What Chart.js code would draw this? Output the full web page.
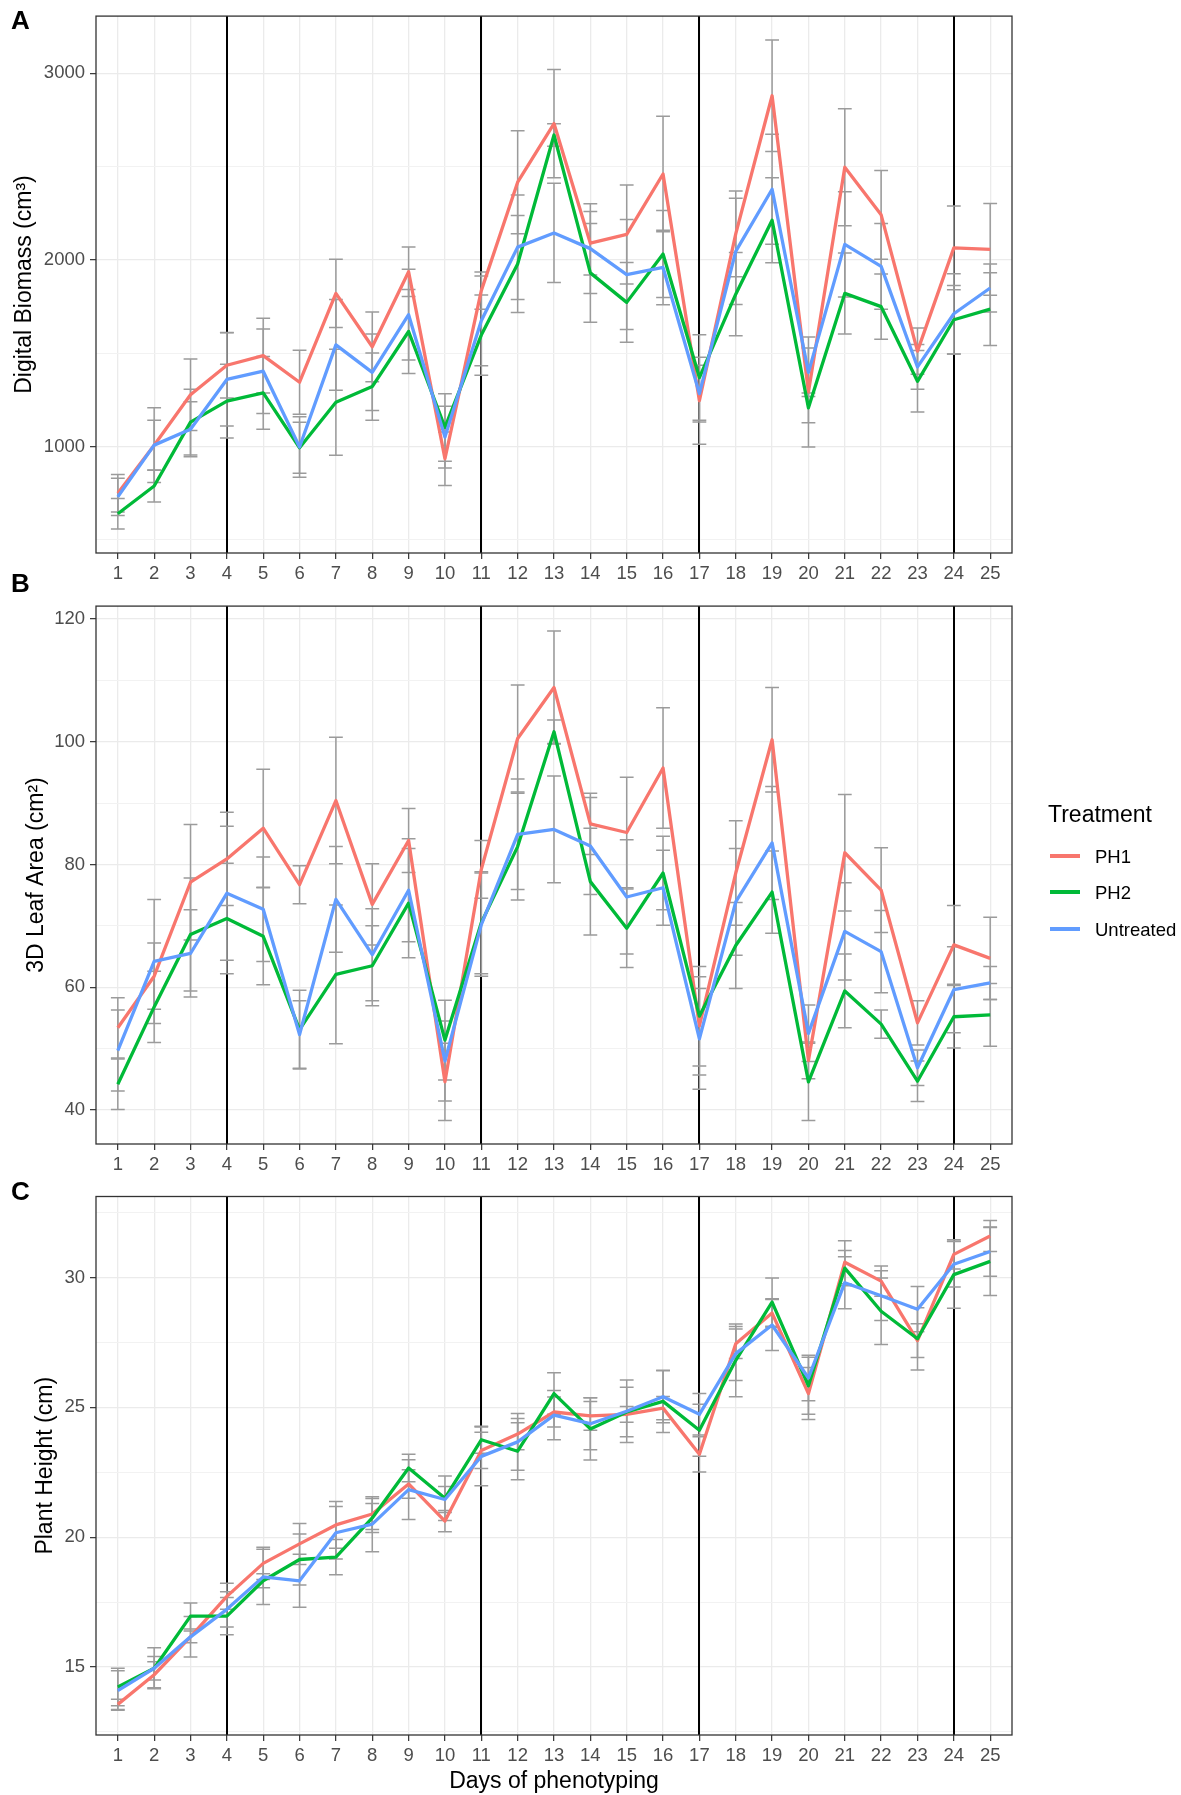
<!DOCTYPE html>
<html>
<head>
<meta charset="utf-8">
<title>Phenotyping traits by treatment</title>
<script src="https://cdn.jsdelivr.net/npm/chart.js@4.4.1/dist/chart.umd.min.js"></script>
<style>
  body { margin: 0; background: #fff; }
  #page { position: relative; width: 1181px; height: 1795px; font-family: "Liberation Sans", Arial, sans-serif; }
  canvas { position: absolute; left: 0; }
  .tag { position: absolute; left: 11px; font-weight: bold; font-size: 26px; line-height: 26px; color: #000; }
  .legend-title { position: absolute; left: 1048px; top: 803px; font-size: 23px; line-height: 23px; color: #000; }
  .legend-item { position: absolute; left: 1095px; font-size: 18.5px; line-height: 18.5px; color: #000; }
  .swatch { position: absolute; left: 1050px; width: 30px; height: 4px; }
</style>
</head>
<body>
<div id="page">
  <canvas id="biomassChart" width="1181" height="600" style="top:0px"></canvas>
  <canvas id="leafChart" width="1181" height="600" style="top:590px"></canvas>
  <canvas id="heightChart" width="1181" height="615" style="top:1180px"></canvas>

  <div class="tag" style="top:7px">A</div>
  <div class="tag" style="top:570px">B</div>
  <div class="tag" style="top:1178px">C</div>

  <div class="legend-title">Treatment</div>
  <div class="swatch" style="top:854px;background:#F8766D"></div>
  <div class="legend-item" style="top:848px">PH1</div>
  <div class="swatch" style="top:890px;background:#00BA38"></div>
  <div class="legend-item" style="top:884px">PH2</div>
  <div class="swatch" style="top:927px;background:#619CFF"></div>
  <div class="legend-item" style="top:921px">Untreated</div>
</div>

<script>
// ---- data ----
const days = [1, 2, 3, 4, 5, 6, 7, 8, 9, 10, 11, 12, 13, 14, 15, 16, 17, 18, 19, 20, 21, 22, 23, 24, 25];
const phaseDays = [4, 11, 17, 24];
const treatments = ['PH1', 'PH2', 'Untreated'];

// A: digital biomass (cm3), means and error half-widths
const biomassPH1 = [750, 1008, 1278, 1436, 1488, 1345, 1821, 1535, 1937, 935, 1836, 2417, 2731, 2090, 2137, 2461, 1246, 2140, 2880, 1293, 2497, 2242, 1512, 2065, 2057];
const biomassPH2 = [640, 789, 1131, 1244, 1288, 994, 1238, 1322, 1617, 1103, 1598, 1979, 2670, 1931, 1773, 2032, 1370, 1817, 2213, 1208, 1821, 1750, 1350, 1680, 1737];
const biomassUntreated = [731, 1008, 1093, 1360, 1404, 998, 1545, 1398, 1707, 1051, 1674, 2069, 2145, 2061, 1922, 1960, 1284, 2046, 2379, 1398, 2084, 1966, 1427, 1712, 1850];
const biomassErrPH1 = [100, 200, 192, 175, 200, 171, 183, 187, 133, 143, 100, 276, 290, 170, 265, 310, 233, 230, 299, 295, 314, 238, 124, 225, 246];
const biomassErrPH2 = [82, 86, 176, 198, 195, 137, 284, 180, 225, 181, 215, 260, 60, 265, 214, 233, 229, 223, 228, 80, 217, 175, 165, 183, 195];
const biomassErrUntreated = [100, 134, 147, 250, 226, 162, 243, 205, 243, 166, 240, 280, 266, 240, 295, 200, 152, 285, 295, 130, 282, 230, 120, 215, 128];

// B: 3D leaf area (cm2)
const leafPH1 = [53.4, 61.8, 77.1, 80.9, 85.9, 76.7, 90.4, 73.5, 83.9, 44.6, 79.2, 100.5, 108.8, 86.6, 85.2, 95.7, 53.7, 78.6, 100.3, 48.1, 81.9, 75.8, 54.2, 66.9, 64.7];
const leafPH2 = [44.2, 56.8, 68.6, 71.2, 68.3, 53.1, 62.1, 63.5, 73.7, 51.4, 70.5, 82.9, 101.6, 77.2, 69.6, 78.6, 55.3, 66.8, 75.5, 44.6, 59.4, 54.0, 44.7, 55.2, 55.5];
const leafUntreated = [49.7, 64.2, 65.5, 75.3, 72.7, 52.3, 74.3, 65.3, 75.8, 48.0, 70.2, 84.9, 85.7, 83.0, 74.7, 76.2, 51.6, 73.9, 83.5, 52.5, 69.1, 65.8, 46.9, 59.6, 60.7];
const leafErrPH1 = [4.9, 5.4, 9.4, 7.6, 9.6, 3.1, 10.3, 6.6, 5.2, 6.3, 4.7, 8.7, 9.2, 5.0, 9.0, 9.8, 8.0, 8.5, 8.5, 3.0, 9.5, 6.9, 3.6, 6.4, 6.7];
const leafErrPH2 = [4.1, 5.8, 9.2, 9.0, 7.9, 6.4, 11.3, 6.5, 8.9, 6.5, 8.3, 8.7, 1.9, 8.7, 6.4, 6.0, 8.1, 7.0, 6.7, 6.3, 6.0, 2.3, 3.3, 5.1, 5.1];
const leafErrUntreated = [6.6, 10.1, 7.1, 10.9, 8.5, 5.5, 8.6, 7.5, 8.4, 6.5, 8.4, 9.0, 8.7, 7.9, 9.3, 6.1, 8.2, 8.7, 9.2, 4.6, 7.9, 6.7, 2.9, 7.0, 2.7];

// C: plant height (cm)
const heightPH1 = [13.56, 14.70, 16.16, 17.72, 18.99, 19.74, 20.47, 20.89, 22.05, 20.62, 23.34, 23.97, 24.82, 24.67, 24.73, 24.97, 23.19, 27.45, 28.63, 25.53, 30.59, 29.86, 27.57, 30.89, 31.60];
const heightPH2 = [14.23, 14.95, 16.96, 16.96, 18.32, 19.14, 19.23, 20.74, 22.66, 21.50, 23.75, 23.31, 25.53, 24.17, 24.82, 25.23, 24.12, 26.81, 29.05, 25.83, 30.36, 28.70, 27.64, 30.11, 30.62];
const heightUntreated = [14.09, 14.95, 16.16, 17.22, 18.47, 18.32, 20.17, 20.50, 21.83, 21.45, 23.11, 23.67, 24.70, 24.37, 24.85, 25.41, 24.73, 27.07, 28.17, 26.13, 29.80, 29.30, 28.78, 30.51, 31.00];
const heightErrPH1 = [0.20, 0.50, 0.23, 0.50, 0.62, 0.79, 0.90, 0.60, 0.55, 0.41, 0.70, 0.60, 0.58, 0.55, 0.30, 0.45, 0.68, 0.57, 0.55, 1.00, 0.83, 0.58, 0.65, 0.56, 0.60];
const heightErrPH2 = [0.72, 0.79, 0.50, 0.72, 0.27, 0.98, 0.68, 0.56, 0.53, 0.86, 0.52, 1.10, 0.80, 1.20, 0.95, 1.20, 1.00, 1.40, 0.93, 1.10, 0.68, 1.28, 1.20, 1.29, 1.31];
const heightErrUntreated = [0.76, 0.45, 0.78, 0.68, 1.06, 1.02, 1.01, 1.06, 1.15, 0.50, 1.13, 1.09, 0.95, 1.00, 1.20, 1.00, 0.80, 1.04, 0.98, 0.88, 1.00, 0.96, 0.87, 0.88, 0.95];

// y tick labels per panel (major) and minor grid positions
const biomassTicks = [1000, 2000, 3000];
const biomassMinor = [500, 1500, 2500];
const leafTicks = [40, 60, 80, 100, 120];
const leafMinor = [50, 70, 90, 110];
const heightTicks = [15, 20, 25, 30];
const heightMinor = [12.5, 17.5, 22.5, 27.5, 32.5];

// ---- styling ----
const lineColors = ['#F8766D', '#00BA38', '#619CFF'];
const FONT = "'Liberation Sans', Arial, sans-serif";
const PLOT_LEFT = 96;      // left edge of every panel
const PLOT_RIGHT_PAD = 169; // room for the legend
const CAP_WIDTH = 0.38;    // error bar cap width in day units

Chart.defaults.font.family = FONT;
Chart.defaults.animation = false;

// phase lines, error bars and panel border
const panelDecor = {
  id: 'panelDecor',
  beforeDatasetsDraw(chart) {
    const { ctx, chartArea, scales: { x, y } } = chart;
    ctx.save();
    ctx.beginPath();
    ctx.rect(chartArea.left, chartArea.top, chartArea.width, chartArea.height);
    ctx.clip();

    ctx.strokeStyle = '#000';
    ctx.lineWidth = 2;
    phaseDays.forEach(d => {
      const px = Math.round(x.getPixelForValue(d));
      ctx.beginPath();
      ctx.moveTo(px, chartArea.top);
      ctx.lineTo(px, chartArea.bottom);
      ctx.stroke();
    });

    ctx.strokeStyle = '#9b9b9b';
    ctx.lineWidth = 1.5;
    chart.data.datasets.forEach(ds => {
      ds.data.forEach((pt, i) => {
        const err = ds.errors[i];
        const px = x.getPixelForValue(pt.x);
        const half = x.getPixelForValue(pt.x + CAP_WIDTH / 2) - px;
        const top = y.getPixelForValue(pt.y + err);
        const bot = y.getPixelForValue(pt.y - err);
        ctx.beginPath();
        ctx.moveTo(px, top); ctx.lineTo(px, bot);
        ctx.moveTo(px - half, top); ctx.lineTo(px + half, top);
        ctx.moveTo(px - half, bot); ctx.lineTo(px + half, bot);
        ctx.stroke();
      });
    });
    ctx.restore();
  },
  afterDraw(chart) {
    const { ctx, chartArea } = chart;
    ctx.save();
    ctx.strokeStyle = '#333333';
    ctx.lineWidth = 1.3;
    ctx.strokeRect(chartArea.left, chartArea.top, chartArea.width, chartArea.height);
    ctx.restore();
  }
};

function makeDatasets(series, errors) {
  return treatments.map((name, k) => ({
    label: name,
    data: days.map((d, i) => ({ x: d, y: series[k][i] })),
    errors: errors[k],
    borderColor: lineColors[k],
    backgroundColor: lineColors[k],
    borderWidth: 3.3,
    borderJoinStyle: 'round',
    pointRadius: 0,
    tension: 0,
    fill: false,
    order: 3 - k
  }));
}

function makePanel(canvasId, cfg) {
  const tickSet = cfg.major.map(v => ({ value: v, isMinor: false }))
    .concat(cfg.minor.map(v => ({ value: v, isMinor: true })))
    .sort((a, b) => a.value - b.value);

  return new Chart(document.getElementById(canvasId), {
    type: 'line',
    data: { datasets: makeDatasets(cfg.series, cfg.errors) },
    options: {
      responsive: false,
      devicePixelRatio: 1,
      layout: { padding: { left: cfg.padLeft, top: cfg.padTop, right: PLOT_RIGHT_PAD, bottom: 0 } },
      plugins: { legend: { display: false }, tooltip: { enabled: false } },
      scales: {
        x: {
          type: 'linear',
          min: 0.4,
          max: 25.6,
          afterBuildTicks: scale => { scale.ticks = days.map(d => ({ value: d })); },
          afterFit: scale => { scale.height = cfg.xHeight; },
          border: { display: false },
          grid: { color: '#EBEBEB', lineWidth: 1.3, tickColor: '#333333', tickLength: 6, tickWidth: 1.2 },
          ticks: { autoSkip: false, maxRotation: 0, padding: 4, color: '#4D4D4D', font: { size: 18.5 },
                   callback: v => String(v) },
          title: { display: !!cfg.xTitle, text: cfg.xTitle || '', color: '#000', font: { size: 23 }, padding: 0 }
        },
        y: {
          type: 'linear',
          min: cfg.yMin,
          max: cfg.yMax,
          afterBuildTicks: scale => { scale.ticks = tickSet.map(t => ({ value: t.value, isMinor: t.isMinor })); },
          afterFit: scale => { scale.width = PLOT_LEFT - cfg.padLeft; },
          border: { display: false },
          grid: {
            color: c => (c.tick && c.tick.isMinor) ? '#F2F2F2' : '#EBEBEB',
            lineWidth: c => (c.tick && c.tick.isMinor) ? 1 : 1.3,
            tickColor: c => (c.tick && c.tick.isMinor) ? 'rgba(0,0,0,0)' : '#333333',
            tickLength: 6,
            tickWidth: 1.2
          },
          ticks: {
            padding: 5, color: '#4D4D4D', font: { size: 18.5 },
            callback: v => (cfg.major.includes(v) ? String(v) : '')
          },
          title: { display: true, text: cfg.yTitle, color: '#000', font: { size: 23 }, padding: 0 }
        }
      }
    },
    plugins: [panelDecor]
  });
}

makePanel('biomassChart', {
  series: [biomassPH1, biomassPH2, biomassUntreated],
  errors: [biomassErrPH1, biomassErrPH2, biomassErrUntreated],
  major: biomassTicks, minor: biomassMinor,
  yMin: 430, yMax: 3307,
  yTitle: 'Digital Biomass (cm³)',
  padLeft: 11, padTop: 13.6, xHeight: 47
});

makePanel('leafChart', {
  series: [leafPH1, leafPH2, leafUntreated],
  errors: [leafErrPH1, leafErrPH2, leafErrUntreated],
  major: leafTicks, minor: leafMinor,
  yMin: 34.48, yMax: 122.06,
  yTitle: '3D Leaf Area (cm²)',
  padLeft: 23, padTop: 14.4, xHeight: 46
});

makePanel('heightChart', {
  series: [heightPH1, heightPH2, heightUntreated],
  errors: [heightErrPH1, heightErrPH2, heightErrUntreated],
  major: heightTicks, minor: heightMinor,
  yMin: 12.38, yMax: 33.12,
  yTitle: 'Plant Height (cm)',
  xTitle: 'Days of phenotyping',
  padLeft: 32, padTop: 16.5, xHeight: 60
});
</script>
</body>
</html>
